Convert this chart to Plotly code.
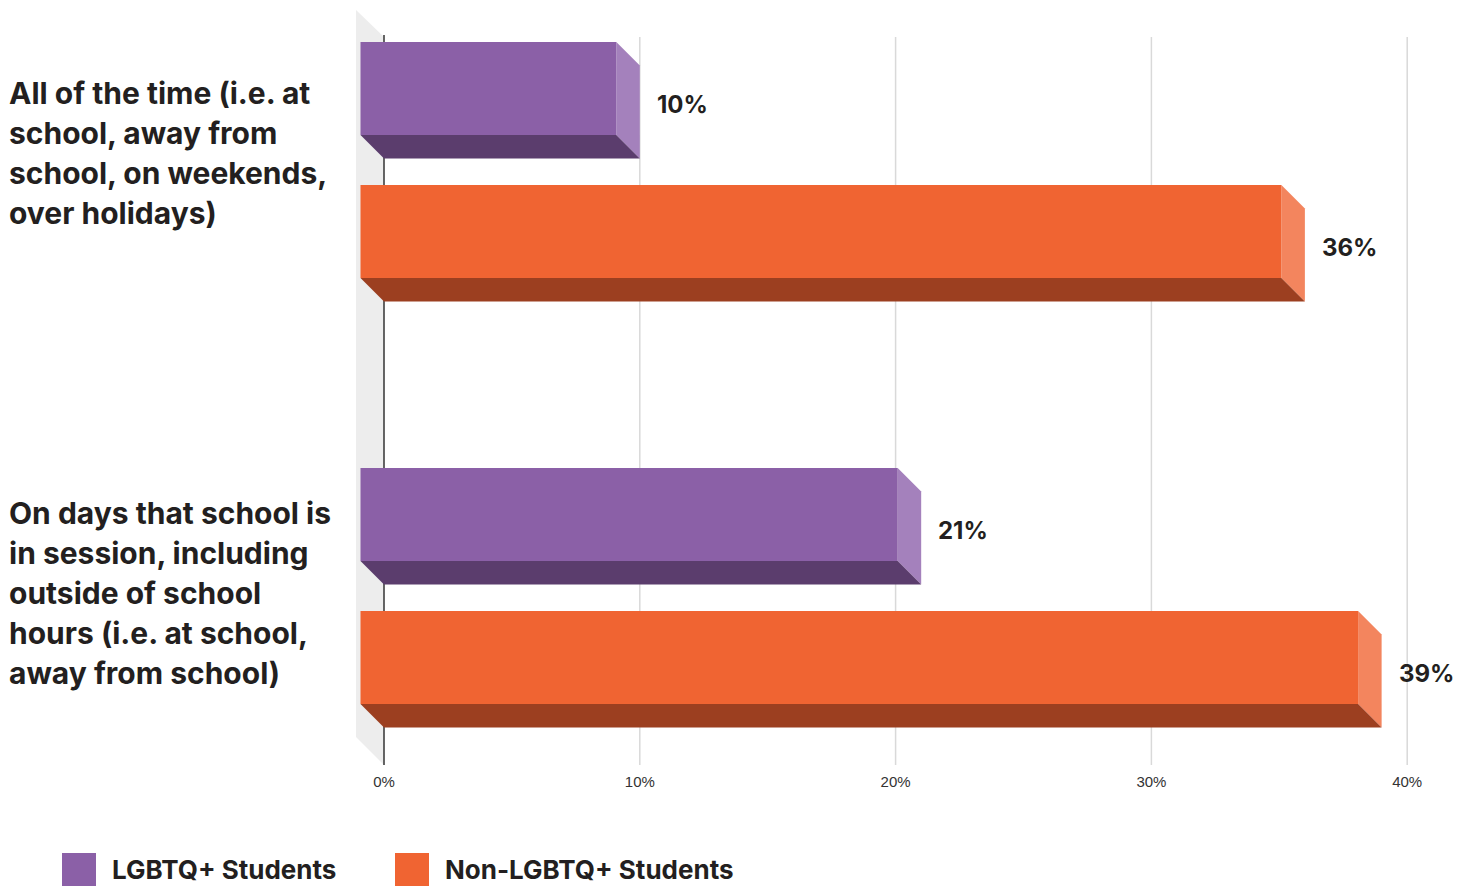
import plotly.graph_objects as go

# ---------------- data ----------------
categories = [
    "All of the time (i.e. at<br>school, away from<br>school, on weekends,<br>over holidays)",
    "On days that school is<br>in session, including<br>outside of school<br>hours (i.e. at school,<br>away from school)",
]
series_names = ["LGBTQ+ Students", "Non-LGBTQ+ Students"]
lgbtq_values = [10, 21]
non_lgbtq_values = [36, 39]
tick_values = [0, 10, 20, 30, 40]
tick_labels = ["0%", "10%", "20%", "30%", "40%"]

# ---------------- style ----------------
OFF = 8                           # page body margin
W, H = 1465 - OFF, 886 - OFF
M_L, M_R, M_T, M_B = 350 - OFF, 5, 0, 116
PLOT_W = W - M_L - M_R
PLOT_H = H - M_T - M_B
PX_PER = 25.58                    # pixels per percent
ZERO_PX = 384 - OFF
X_RANGE = [(M_L - ZERO_PX) / PX_PER, (W - M_R - ZERO_PX) / PX_PER]

FRONT = ["#8B60A7", "#F06432"]
SIDE = ["#A481BC", "#F3855E"]
BOTTOM = ["#5B3D6D", "#9C3F20"]
TEXT = "#231F20"

DEPTH_PX = 23.5
DX = DEPTH_PX / PX_PER
DY = DEPTH_PX
BAR_H = 93
GROUP_START = 88.5 - OFF
GROUP_GAP = 426
SERIES_GAP = 143
LABEL_OFFSETS = [-7, 7]
FONT = "Inter"

series_values = [lgbtq_values, non_lgbtq_values]


def bar_center(i, j):
    return GROUP_START + GROUP_GAP * i + SERIES_GAP * j


def px_to_paper_x(px):
    return (px - OFF - M_L) / PLOT_W


def px_to_paper_y(py):
    return (H - M_B - (py - OFF)) / PLOT_H


fig = go.Figure()
shapes = []

# back wall (left side face of the 3D frame)
WALL_DX = 28 / PX_PER
y_top_f, y_top_b, y_bot_f, y_bot_b = 10 - OFF, 37 - OFF, 737 - OFF, 765 - OFF
shapes.append(dict(
    type="path", xref="x", yref="y", layer="below",
    path=f"M {-WALL_DX} {y_top_f} L 0 {y_top_b} L 0 {y_bot_b} L {-WALL_DX} {y_bot_f} Z",
    fillcolor="#EDEDED", line=dict(width=0)))

# gridlines
for tv in tick_values:
    if tv == 0:
        shapes.append(dict(type="line", xref="x", yref="y", layer="below",
                           x0=0, x1=0, y0=y_top_b - 2, y1=y_bot_b,
                           line=dict(color="#333333", width=1.5)))
    else:
        shapes.append(dict(type="line", xref="x", yref="y", layer="below",
                           x0=tv, x1=tv, y0=y_top_b, y1=y_bot_b,
                           line=dict(color="#D9D9D9", width=1.5)))

annotations = []
for j, (name, vals) in enumerate(zip(series_names, series_values)):
    ys = [bar_center(i, j) for i in range(len(vals))]
    fig.add_trace(go.Bar(
        orientation="h", name=name, y=ys, x=vals, base=[-DX] * len(vals),
        width=BAR_H, marker=dict(color=FRONT[j], line=dict(width=0)),
        showlegend=False, hoverinfo="skip"))
    for i, v in enumerate(vals):
        yc = ys[i]
        top, bot = yc - BAR_H / 2, yc + BAR_H / 2
        # right side face
        shapes.append(dict(
            type="path", xref="x", yref="y", layer="below",
            path=f"M {v - DX} {top} L {v} {top + DY} L {v} {bot + DY} L {v - DX} {bot} Z",
            fillcolor=SIDE[j], line=dict(width=0)))
        # bottom face
        shapes.append(dict(
            type="path", xref="x", yref="y", layer="below",
            path=f"M {-DX} {bot} L {v - DX} {bot} L {v} {bot + DY} L 0 {bot + DY} Z",
            fillcolor=BOTTOM[j], line=dict(width=0)))
        annotations.append(dict(
            x=v, y=yc + 16, xref="x", yref="y", text=f"{v}%",
            showarrow=False, xanchor="left", yanchor="middle", xshift=15,
            font=dict(family=FONT, size=24, color=TEXT, weight=700)))

# category labels (left aligned, one annotation per line)
LINE_H = 40
for i, cat in enumerate(categories):
    lines = cat.split("<br>")
    g_center = (bar_center(i, 0) + bar_center(i, 1)) / 2 + LABEL_OFFSETS[i] + OFF
    first = g_center - LINE_H * (len(lines) - 1) / 2
    for k, ln in enumerate(lines):
        annotations.append(dict(
            x=px_to_paper_x(OFF), y=px_to_paper_y(first + LINE_H * k),
            xref="paper", yref="paper", text=ln, showarrow=False,
            xanchor="left", yanchor="middle", borderpad=0,
            font=dict(family=FONT, size=30, color=TEXT, weight=700)))

# legend (drawn manually to match large square swatches)
legend_x = [62, 395]
legend_text_x = [112, 445]
for j, name in enumerate(series_names):
    x0 = legend_x[j]
    shapes.append(dict(type="rect", xref="paper", yref="paper",
                       x0=px_to_paper_x(x0), x1=px_to_paper_x(x0 + 34),
                       y0=px_to_paper_y(853), y1=px_to_paper_y(890),
                       fillcolor=FRONT[j], line=dict(width=0)))
    annotations.append(dict(
        x=px_to_paper_x(legend_text_x[j] - 2), y=px_to_paper_y(870), xref="paper", yref="paper",
        text=name, showarrow=False, xanchor="left", yanchor="middle",
        font=dict(family=FONT, size=26, color=TEXT, weight=700)))

fig.update_layout(
    width=W, height=H,
    margin=dict(l=M_L, r=M_R, t=M_T, b=M_B, pad=0),
    paper_bgcolor="white", plot_bgcolor="white",
    barmode="overlay",
    shapes=shapes, annotations=annotations,
    xaxis=dict(range=X_RANGE, tickvals=tick_values, ticktext=tick_labels,
               showgrid=False, zeroline=False, showline=False, ticks="",
               ticklabelstandoff=1,
               tickfont=dict(family="Liberation Sans", size=15, color="#333333")),
    yaxis=dict(range=[PLOT_H, 0], showgrid=False, zeroline=False,
               showline=False, showticklabels=False, ticks=""),
)

fig.write_html("out.html")
